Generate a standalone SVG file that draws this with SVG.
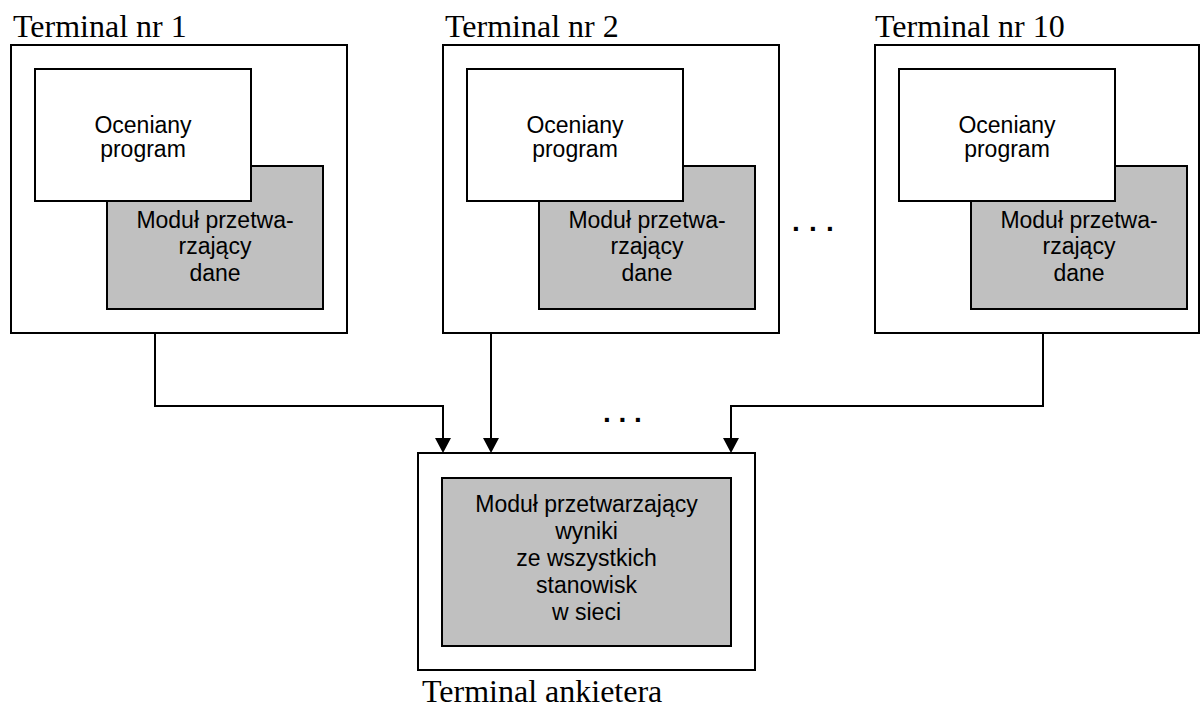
<svg xmlns="http://www.w3.org/2000/svg" width="1201" height="710" viewBox="0 0 1201 710">
  <style>
    .outer { fill: #ffffff; stroke: #000000; stroke-width: 2; }
    .prog { fill: #ffffff; stroke: #000000; stroke-width: 2; }
    .mod { fill: #c0c0c0; stroke: #000000; stroke-width: 2; }
    .title { font-family: "Liberation Serif", "Times New Roman", serif; font-size: 32px; fill: #000000; }
    .lbl { font-family: "Liberation Sans", Arial, sans-serif; font-size: 23px; fill: #000000; text-anchor: middle; }
    .dots { font-family: "Liberation Sans", Arial, sans-serif; font-size: 28px; font-weight: bold; fill: #000000; }
    .conn { fill: none; stroke: #000000; stroke-width: 2; }
  </style>
  <defs>
    <marker id="arrow" markerUnits="userSpaceOnUse" markerWidth="15" markerHeight="16" refX="0" refY="8" orient="auto">
      <path d="M0,0 L15,8 L0,16 Z" fill="#000000"/>
    </marker>
  </defs>
  <rect x="0" y="0" width="1201" height="710" fill="#ffffff"/>

  <g id="terminal1">
    <text class="title" x="13" y="37">Terminal nr 1</text>
    <rect class="outer" x="11" y="45" width="336" height="288"/>
    <rect class="mod" x="107" y="166" width="216" height="143"/>
    <rect class="prog" x="35" y="69" width="216" height="132"/>
    <text class="lbl" x="143" y="133">Oceniany</text>
    <text class="lbl" x="143" y="157">program</text>
    <text class="lbl" x="215" y="228">Moduł przetwa-</text>
    <text class="lbl" x="215" y="254">rzający</text>
    <text class="lbl" x="215" y="281">dane</text>
  </g>

  <g id="terminal2">
    <text class="title" x="445" y="37">Terminal nr 2</text>
    <rect class="outer" x="443" y="45" width="336" height="288"/>
    <rect class="mod" x="539" y="166" width="216" height="143"/>
    <rect class="prog" x="467" y="69" width="216" height="132"/>
    <text class="lbl" x="575" y="133">Oceniany</text>
    <text class="lbl" x="575" y="157">program</text>
    <text class="lbl" x="647" y="228">Moduł przetwa-</text>
    <text class="lbl" x="647" y="254">rzający</text>
    <text class="lbl" x="647" y="281">dane</text>
  </g>

  <g id="terminal10">
    <text class="title" x="875" y="37">Terminal nr 10</text>
    <rect class="outer" x="875" y="45" width="324" height="288"/>
    <rect class="mod" x="971" y="166" width="216" height="143"/>
    <rect class="prog" x="899" y="69" width="216" height="132"/>
    <text class="lbl" x="1007" y="133">Oceniany</text>
    <text class="lbl" x="1007" y="157">program</text>
    <text class="lbl" x="1079" y="228">Moduł przetwa-</text>
    <text class="lbl" x="1079" y="254">rzający</text>
    <text class="lbl" x="1079" y="281">dane</text>
  </g>

  <g id="dots-terminals">
    <text class="dots" x="792" y="231" letter-spacing="9.2">...</text>
  </g>

  <g id="terminal-ankietera">
    <rect class="outer" x="418" y="453" width="337" height="217"/>
    <rect class="mod" x="442" y="478" width="289" height="168"/>
    <text class="lbl" x="586.5" y="512">Moduł przetwarzający</text>
    <text class="lbl" x="586.5" y="539">wyniki</text>
    <text class="lbl" x="586.5" y="566">ze wszystkich</text>
    <text class="lbl" x="586.5" y="593">stanowisk</text>
    <text class="lbl" x="586.5" y="620">w sieci</text>
    <text class="title" x="422" y="702">Terminal ankietera</text>
  </g>

  <g id="connectors">
    <path class="conn" d="M155,333 V406 H443 V438" marker-end="url(#arrow)"/>
    <path class="conn" d="M491,333 V438" marker-end="url(#arrow)"/>
    <path class="conn" d="M1043,333 V406 H731 V438" marker-end="url(#arrow)"/>
    <text class="dots" x="603" y="422" letter-spacing="7.7">...</text>
  </g>
</svg>
